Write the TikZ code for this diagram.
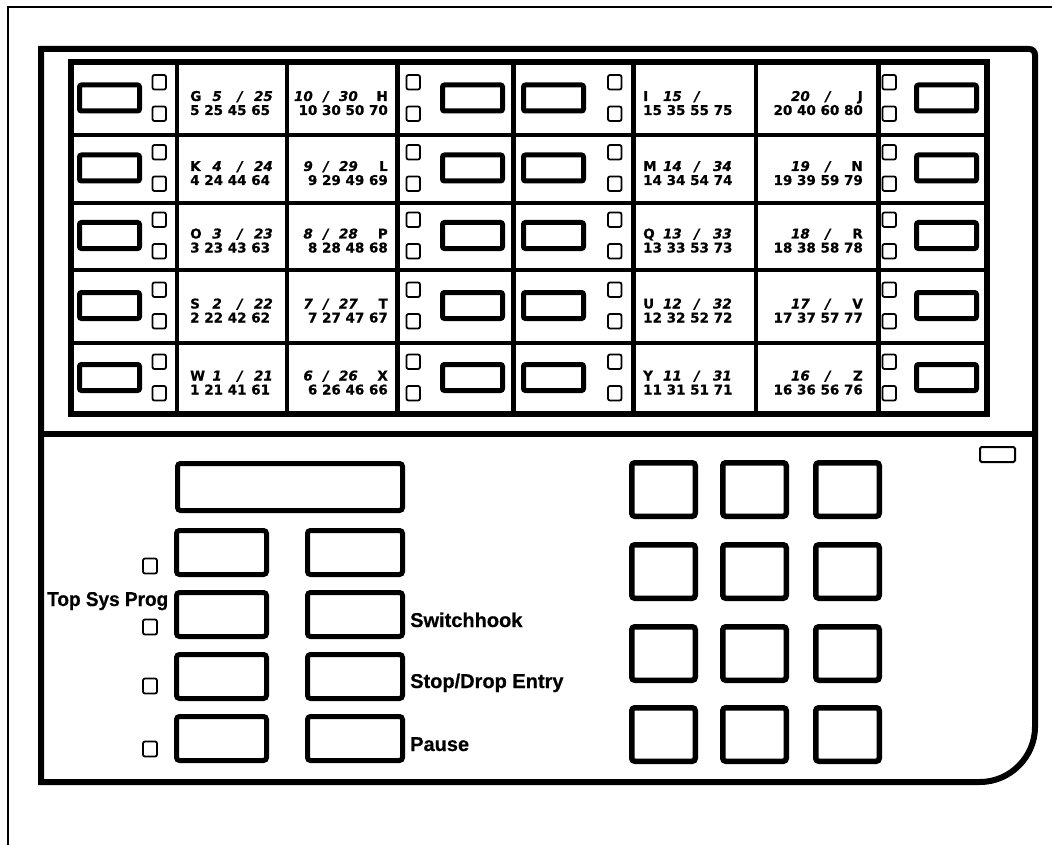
\documentclass[tikz,border=0pt]{standalone}
\usepackage{fontspec}
\newfontfamily\cellfont{DejaVu Sans}[FakeBold=0.6]
\newfontfamily\labfont{Liberation Sans}[FakeBold=0.5]
\begin{document}
\begin{tikzpicture}[x=1pt,y=-1pt,
  panel/.style={line width=6pt},
  gridline/.style={line width=4pt},
  thickgrid/.style={line width=5pt},
  keyrect/.style={draw,line width=5pt,rounded corners=2pt},
  ledbox/.style={draw,line width=1.8pt,rounded corners=2pt},
  padkey/.style={draw,line width=5.5pt,rounded corners=3pt},
  ctext/.style={inner sep=0pt,font=\cellfont\bfseries\fontsize{13.5}{14}\selectfont},
  itext/.style={inner sep=0pt,font=\cellfont\bfseries\itshape\fontsize{13.5}{14}\selectfont},
  lab/.style={inner sep=0pt,anchor=base west,font=\labfont\bfseries\fontsize{20}{22}\selectfont}
]
\useasboundingbox (0,0) rectangle (1052,845);
% outer thin frame
\draw[line width=2.5pt] (8,845) -- (8,7) -- (1052,7);
% main panel
\draw[panel] (41,782) -- (41,49) -- (1029,49) .. controls (1032.5,49) and (1035,51.5) .. (1035,55)
  -- (1035,727) .. controls (1035,757) and (1010,782) .. (980,782) -- cycle;
\draw[panel] (41,434) -- (1035,434);
% inner key panel
\draw[panel] (71,62) rectangle (987,414);
\foreach \yy in {135,203,270,343} \draw[gridline] (71,\yy) -- (987,\yy);
\foreach \xx in {177,287,756} \draw[gridline] (\xx,62) -- (\xx,414);
\foreach \xx in {397,513,633,878} \draw[thickgrid] (\xx,62) -- (\xx,414);
% rows
\foreach \t/\b/\la/\na/\nb/\lb/\nc/\nd/\lc/\ne/\nf/\ld/\ng [count=\r] in {
  63/135/G/5/25/H/10/30/I/15/{}/J/20,
  135/203/K/4/24/L/9/29/M/14/34/N/19,
  203/270/O/3/23/P/8/28/Q/13/33/R/18,
  270/343/S/2/22/T/7/27/U/12/32/V/17,
  343/414/W/1/21/X/6/26/Y/11/31/Z/16}{
  \pgfmathsetmacro{\c}{(\t+\b)/2+1}
  % keys
  \foreach \kx in {79.5,442.5,523.5,916.5}
    \draw[keyrect] (\kx,\c-15) rectangle ++(60,26);
  % LEDs
  \foreach \lx in {152.5,406.5,608,882.5}{
    \draw[ledbox] (\lx,\c-25) rectangle ++(13.5,14.5);
    \draw[ledbox] (\lx,\c+6.5) rectangle ++(13.5,14.5);
  }
  % column 2 text
  \node[ctext,anchor=base west] (la\r) at (190,\c+1) {\la};
  \node[itext,anchor=base east] (na\r) at (222,\c+1) {\na};
  \node[itext,anchor=base] (sa\r) at (240,\c+1) {/};
  \node[itext,anchor=base east] (nb\r) at (273,\c+1) {\nb};
  \pgfmathtruncatemacro{\pa}{\na+20}\pgfmathtruncatemacro{\pb}{\na+40}\pgfmathtruncatemacro{\pc}{\na+60}
  \node[ctext,anchor=base west] (ra\r) at (190,\c+15) {\na\ \pa\ \pb\ \pc};
  % column 3 text
  \node[ctext,anchor=base east] (lb\r) at (388,\c+1) {\lb};
  \node[itext,anchor=base east] (nd\r) at (358,\c+1) {\nd};
  \node[itext,anchor=base] (sb\r) at (326,\c+1) {/};
  \node[itext,anchor=base east] (nc\r) at (313,\c+1) {\nc};
  \pgfmathtruncatemacro{\qa}{\nc+20}\pgfmathtruncatemacro{\qb}{\nc+40}\pgfmathtruncatemacro{\qc}{\nc+60}
  \node[ctext,anchor=base east] (rb\r) at (388,\c+15) {\nc\ \qa\ \qb\ \qc};
  % column 6 text
  \node[ctext,anchor=base west] (lc\r) at (643,\c+1) {\lc};
  \node[itext,anchor=base east] (ne\r) at (682,\c+1) {\ne};
  \node[itext,anchor=base] (sc\r) at (697,\c+1) {/};
  \node[itext,anchor=base east] (nf\r) at (732,\c+1) {\nf};
  \pgfmathtruncatemacro{\ua}{\ne+20}\pgfmathtruncatemacro{\ub}{\ne+40}\pgfmathtruncatemacro{\uc}{\ne+60}
  \node[ctext,anchor=base west] (rc\r) at (643,\c+15) {\ne\ \ua\ \ub\ \uc};
  % column 7 text
  \node[ctext,anchor=base east] (ld\r) at (863,\c+1) {\ld};
  \node[itext,anchor=base] (sd\r) at (828,\c+1) {/};
  \node[itext,anchor=base east] (ng\r) at (810,\c+1) {\ng};
  \pgfmathtruncatemacro{\va}{\ng+20}\pgfmathtruncatemacro{\vb}{\ng+40}\pgfmathtruncatemacro{\vc}{\ng+60}
  \node[ctext,anchor=base east] (rd\r) at (863,\c+15) {\ng\ \va\ \vb\ \vc};
}
% lower section
\draw[keyrect,rounded corners=3pt] (177.5,463.5) rectangle (402.5,510.5);
\foreach \ky in {528,590,652,714}{
  \draw[keyrect,rounded corners=3pt] (176.5,\ky+2.5) rectangle (266.5,\ky+46.5);
  \draw[keyrect,rounded corners=3pt] (307.5,\ky+2.5) rectangle (402.5,\ky+46.5);
}
\foreach \ly in {566,627,686,749}
  \draw[ledbox] (143,\ly-7.5) rectangle (157,\ly+7.5);
\node[lab] (tsp) at (47,606) {\scalebox{0.95}[1]{Top Sys Prog}};
\node[lab] (swh) at (410,627) {Switchhook};
\node[lab] (sde) at (410,688) {Stop/Drop Entry};
\node[lab] (pau) at (410,751) {Pause};
% keypad
\foreach \px in {629,720,813}
  \foreach \py in {460,542,624,705}
    \draw[padkey] (\px+2.75,\py+2.75) rectangle (\px+66.25,\py+56.25);
% small indicator
\draw[line width=2pt,rounded corners=1.5pt] (980,447) rectangle (1015,462);
\end{tikzpicture}
\end{document}
